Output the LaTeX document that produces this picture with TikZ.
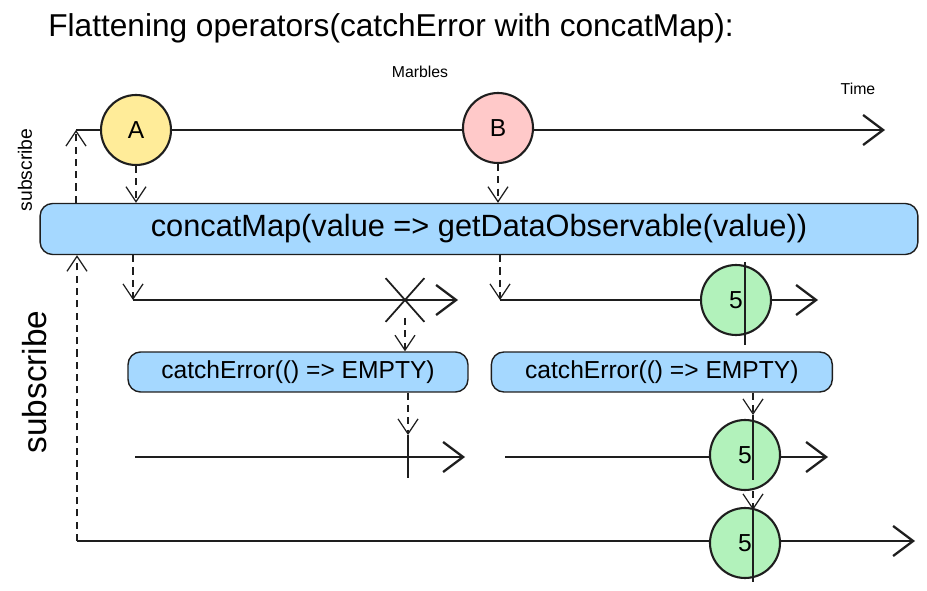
\documentclass[tikz,border=0pt]{standalone}
\usepackage{fontspec}
\setmainfont{Liberation Sans}
\usepackage{xcolor}
\usetikzlibrary{arrows.meta, positioning, shapes.misc}

\definecolor{ink}{HTML}{1E1E1E}
\definecolor{opblue}{HTML}{A5D8FF}
\definecolor{yellowA}{HTML}{FFEC99}
\definecolor{pinkB}{HTML}{FFC9C9}
\definecolor{greenV}{HTML}{B2F2BB}

\begin{document}
\begin{tikzpicture}[
    x=0.02cm, y=-0.02cm,
    marble/.style={
        circle,
        draw=ink,
        line width=1.2pt,
        minimum size=1.4cm,
        inner sep=0pt,
        font=\fontsize{14}{16}\selectfont
    },
    opbox/.style={
        rectangle,
        rounded corners=2.5mm,
        draw=ink,
        fill=opblue,
        line width=0.8pt,
        align=center
    },
    timeline/.style={draw=ink, line width=1.3pt, -{Straight Barb[length=4mm, width=6mm]}},
    flow/.style={draw=ink, line width=0.7pt, dash pattern=on 4pt off 3pt, -{Straight Barb[length=3mm, width=4mm]}},
    stopline/.style={draw=ink, line width=1.2pt}
]
\useasboundingbox (0,0) rectangle (927,591);

% titles
\node[anchor=west, inner sep=0pt, font=\fontsize{18}{21}\selectfont] (title) at (48,28) {Flattening operators(catchError with concatMap):};
\node[font=\fontsize{9}{11}\selectfont] (marbles) at (420,72) {Marbles};
\node[font=\fontsize{9}{11}\selectfont] (time) at (858,89) {Time};
\node[rotate=90, font=\fontsize{11}{13}\selectfont] (subsmall) at (25,170) {subscribe};
\node[rotate=90, font=\fontsize{19}{22}\selectfont] (subbig) at (35,382) {subscribe};

% source stream
\coordinate (src start) at (76,130);
\coordinate (src end) at (885,130);
\draw[timeline] (src start) -- (src end);
\node[marble, fill=yellowA] (A) at (136,130) {A};
\node[marble, fill=pinkB] (B) at (498,128) {B};

% concatMap
\node[opbox, minimum width=17.56cm, minimum height=1.02cm, font=\fontsize{17.5}{20}\selectfont] (map) at (479,229) {concatMap(value => getDataObservable(value))};

\draw[flow] (A.south) -- (A.south |- map.north);
\draw[flow] (B.south) -- (B.south |- map.north);
\draw[flow] (src start |- map.north) -- (src start);

% inner streams
\coordinate (innerA start) at (133,300);
\coordinate (innerA end) at (458,300);
\coordinate (innerB start) at (500,300);
\coordinate (innerB end) at (818,300);
\draw[timeline] (innerA start) -- (innerA end);
\draw[timeline] (innerB start) -- (innerB end);
\node[cross out, draw=ink, line width=1pt, minimum width=0.74cm, minimum height=0.84cm] (err) at (405,300) {};
\node[marble, fill=greenV] (five1) at (736,300) {5};
\draw[stopline] (745,262) -- (745,345);

\draw[flow] (innerA start |- map.south) -- (innerA start);
\draw[flow] (innerB start |- map.south) -- (innerB start);

% catchError
\node[opbox, minimum width=6.8cm, minimum height=0.8cm, font=\fontsize{14}{16}\selectfont] (catch1) at (298,372) {catchError(() => EMPTY)};
\node[opbox, minimum width=6.82cm, minimum height=0.8cm, font=\fontsize{14}{16}\selectfont, right=0.44cm of catch1] (catch2) {catchError(() => EMPTY)};

\draw[flow] (err.center) ++(0,18) coordinate (err foot) -- (err foot |- catch1.north);

% caught streams
\coordinate (caughtA start) at (135,457);
\coordinate (caughtA end) at (465,457);
\coordinate (caughtB start) at (505,457);
\coordinate (caughtB end) at (828,457);
\draw[timeline] (caughtA start) -- (caughtA end);
\draw[timeline] (caughtB start) -- (caughtB end);
\coordinate (done top) at (408,435);
\draw[stopline] (done top) -- (408,478);
\node[marble, fill=greenV] (five2) at (745,455) {5};
\coordinate (five2 top) at (753,415);
\draw[stopline] (five2 top) -- (753,480);

\draw[flow] (done top |- catch1.south) -- (done top);
\draw[flow] (five2 top |- catch2.south) -- (five2 top);

% result stream
\coordinate (out start) at (77,541);
\coordinate (out end) at (915,541);
\draw[timeline] (out start) -- (out end);
\node[marble, fill=greenV] (five3) at (745,543) {5};
\coordinate (five3 top) at (753,510);
\draw[stopline] (five3 top) -- (753,582);

\draw[flow] (five3 top |- five2.south) -- (five3 top);
\draw[flow] (out start) -- (out start |- map.south);

\end{tikzpicture}
\end{document}
